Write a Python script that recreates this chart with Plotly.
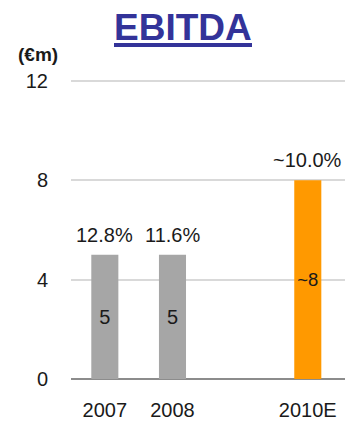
import plotly.graph_objects as go

categories = ["2007", "2008", "2010E"]
axis_order = ["2007", "2008", "2009", "2010E"]
axis_labels = ["2007", "2008", "", "2010E"]
values = [5, 5, 8]
inside_labels = ["5", "5", "~8"]
margin_labels = ["12.8%", "11.6%", "~10.0%"]
bar_colors = ["#A6A6A6", "#A6A6A6", "#FF9900"]
y_ticks = [0, 4, 8, 12]

FONT = "Liberation Sans, Arial, sans-serif"
FS = 20
TOP = 73
PH = 424 - TOP - 45

fig = go.Figure()
fig.add_trace(go.Bar(
    x=categories, y=values, width=0.4,
    marker=dict(color=bar_colors, line=dict(width=0)),
    text=inside_labels, textposition="inside", insidetextanchor="middle",
    textfont=dict(family=FONT, size=FS, color="#1a1a1a"),
    textangle=0, cliponaxis=False, showlegend=False,
))

for c, v, t in zip(categories, values, margin_labels):
    fig.add_annotation(x=axis_order.index(c), y=v, text=t, showarrow=False, yanchor="bottom",
                       yshift=7, font=dict(family=FONT, size=FS, color="#1a1a1a"))

fig.add_annotation(xref="paper", yref="paper", x=(183-71)/274, y=1, yshift=TOP - 27,
                   text="<b>EBITDA</b>", showarrow=False, yanchor="middle",
                   font=dict(family=FONT, size=37, color="#333399"))
fig.add_shape(type="line", xref="paper", yref="paper", x0=(114-71)/274, x1=(252-71)/274,
              y0=1 + (TOP - 45)/PH, y1=1 + (TOP - 45)/PH, line=dict(color="#333399", width=4))
fig.add_annotation(xref="paper", yref="paper", x=0, xshift=-33, y=1, yshift=TOP - 54,
                   text="<b>(€m)</b>", showarrow=False, xanchor="center", yanchor="middle",
                   font=dict(family=FONT, size=19, color="#1a1a1a"))

fig.update_layout(
    width=345, height=424,
    margin=dict(l=71, r=0, t=TOP, b=45),
    paper_bgcolor="white", plot_bgcolor="white",
    font=dict(family=FONT, size=FS, color="#1a1a1a"),
    xaxis=dict(type="category", categoryorder="array", categoryarray=axis_order,
               tickvals=axis_order, ticktext=axis_labels, range=[-0.5, 3.55],
               showgrid=False, showline=False, ticks="", ticklabelstandoff=17,
               tickfont=dict(family=FONT, size=FS, color="#1a1a1a")),
    yaxis=dict(range=[0, 12 * PH / 298], tickvals=y_ticks, showgrid=True, gridcolor="#D9D9D9",
               gridwidth=1.5, zeroline=True, zerolinecolor="#8C8C8C", zerolinewidth=2,
               ticks="", ticklabelstandoff=22,
               tickfont=dict(family=FONT, size=FS, color="#1a1a1a")),
    bargap=0.6,
)

fig.write_html("out.html")
